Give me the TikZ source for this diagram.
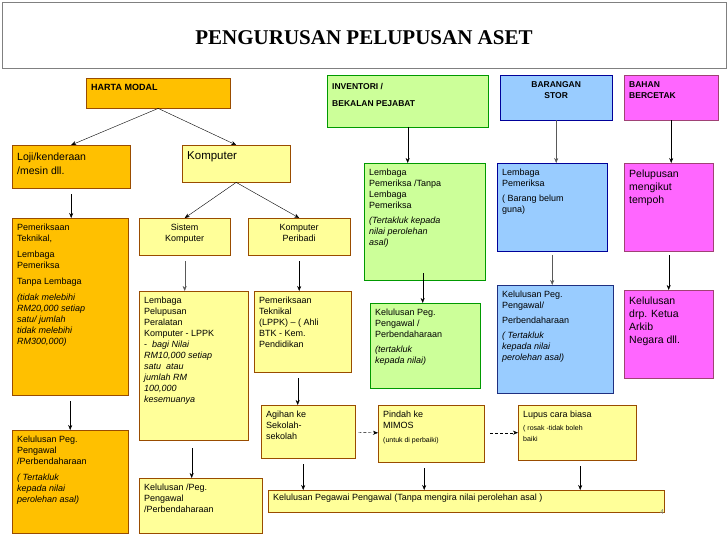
\documentclass[tikz,border=0pt]{standalone}
\usepackage{fontspec}
\setmainfont{Liberation Sans}
\newfontfamily\titlefont{Liberation Serif}
\usetikzlibrary{arrows.meta,positioning}
\definecolor{orangebox}{HTML}{FFC000}
\definecolor{yellowbox}{HTML}{FFFF99}
\definecolor{greenbox}{HTML}{CCFF99}
\definecolor{bluebox}{HTML}{99CCFF}
\definecolor{pinkbox}{HTML}{FF66FF}
\definecolor{darkblue}{HTML}{1F2F80}
% top aligned box text: width, height, text
\newcommand{\tb}[3]{\parbox[c][#2pt][t]{#1pt}{\raggedright\strut #3}}
\newcommand{\cb}[3]{\parbox[c][#2pt][t]{#1pt}{\centering\strut #3}}
\tikzset{%
        box/.style = { draw=#1!60!black, anchor=north west, inner sep=5pt, font=\fontsize{9}{11}\selectfont },
    orangebox/.style = { box=orange, fill=orangebox },
    yellowbox/.style = { box=orange, fill=yellowbox },
     greenbox/.style = { box=green, fill=greenbox },
      bluebox/.style = { box=blue, fill=bluebox },
      pinkbox/.style = { box=magenta, fill=pinkbox },
        arrow/.style = { -{Stealth[length=5pt,width=4pt]}, thin },
       garrow/.style = { arrow, gray!70!black },
       darrow/.style = { arrow, densely dashed },
}
\begin{document}
\begin{tikzpicture}[x=1pt,y=-1pt]
\useasboundingbox (0,0) rectangle (728,546);
% title
\draw[gray, fill=white] (2,2) rectangle (726,68);
\node[font=\titlefont\fontsize{21}{24}\selectfont\bfseries] (title) at (364,38) {PENGURUSAN PELUPUSAN ASET};
% top row
\node[orangebox, font=\fontsize{9}{11}\selectfont\bfseries] (harta) at (86,78) {\tb{134}{20}{HARTA MODAL}};
\node[greenbox, font=\fontsize{8.5}{13}\selectfont\bfseries] (inventori) at (327,75) {\tb{151}{42}{INVENTORI /\\[4pt]BEKALAN PEJABAT}};
\node[bluebox, font=\fontsize{8.5}{11}\selectfont\bfseries] (stor) at (500,75) {\cb{102}{35}{BARANGAN\\STOR}};
\node[pinkbox, font=\fontsize{8.5}{11}\selectfont\bfseries] (bahan) at (624,75) {\tb{84}{35}{BAHAN\\BERCETAK}};
% harta modal
\node[orangebox, font=\fontsize{10.5}{14}\selectfont] (loji) at (12,145) {\tb{108}{33}{Loji/kenderaan\\/mesin dll.}};
\node[yellowbox, font=\fontsize{11.5}{13}\selectfont] (komputer) at (182,145) {\tb{98}{27}{Komputer}};
\node[orangebox] (teknikal) at (12,218) {\tb{106}{167}{Pemeriksaan\\Teknikal,\\[5pt]Lembaga\\Pemeriksa\\[5pt]Tanpa Lembaga\\[5pt]\itshape (tidak melebihi\\RM20,000 setiap\\satu/ jumlah\\tidak melebihi\\RM300,000)}};
\node[yellowbox] (sistem) at (139,218) {\cb{81}{27}{Sistem\\Komputer}};
\node[yellowbox] (peribadi) at (248,218) {\cb{92}{27}{Komputer\\Peribadi}};
\node[yellowbox] (lppk) at (139,291) {\tb{99}{139}{Lembaga\\Pelupusan\\Peralatan\\Komputer - LPPK\\- \textit{ bagi Nilai}\\\itshape RM10,000 setiap\\satu \ atau\\jumlah RM\\100,000\\kesemuanya}};
\node[yellowbox] (lppkteknikal) at (254,291) {\tb{87}{71}{Pemeriksaan\\Teknikal\\(LPPK) – ( Ahli\\BTK - Kem.\\Pendidikan}};
\node[orangebox] (lulusharta) at (12,430) {\tb{106}{93}{Kelulusan Peg.\\Pengawal\\/Perbendaharaan\\[5pt]\itshape ( Tertakluk\\kepada nilai\\perolehan asal)}};
\node[yellowbox] (luluslppk) at (139,478) {\tb{113}{45}{Kelulusan /Peg.\\Pengawal\\/Perbendaharaan}};
\node[yellowbox] (agihan) at (261,405) {\tb{84}{43}{Agihan ke\\Sekolah-\\sekolah}};
\node[yellowbox] (pindah) at (378,405) {\tb{96}{47}{Pindah ke\\MIMOS\\[3pt]{\fontsize{7}{8}\selectfont (untuk di perbaiki)}}};
\node[yellowbox] (lupus) at (518,405) {\tb{108}{45}{Lupus cara biasa\\[3pt]{\fontsize{7}{8}\selectfont ( rosak -tidak boleh\\baiki}}};
\node[yellowbox, inner ysep=3pt] (pengawal) at (268,490) {\tb{386}{16}{Kelulusan Pegawai Pengawal (Tanpa mengira nilai perolehan asal )}};
\node[font=\fontsize{7}{8}\selectfont, text=gray] (page) at (662,512) {4};
% inventori
\node[greenbox] (lembaga) at (364,163) {\tb{111}{107}{Lembaga\\Pemeriksa /Tanpa\\Lembaga\\Pemeriksa\\[4pt]\itshape (Tertakluk kepada\\nilai perolehan\\asal)}};
\node[greenbox] (lulusinv) at (370,303) {\tb{100}{75}{Kelulusan Peg.\\Pengawal /\\Perbendaharaan\\[4pt]\itshape (tertakluk\\kepada nilai)}};
% barangan stor
\node[bluebox] (lembagastor) at (497,163) {\tb{100}{78}{Lembaga\\Pemeriksa\\[4pt]( Barang belum\\guna)}};
\node[bluebox, draw=darkblue] (lulusstor) at (497,285) {\tb{106}{98}{Kelulusan Peg.\\Pengawal/\\[4pt]Perbendaharaan\\[4pt]\itshape ( Tertakluk\\kepada nilai\\perolehan asal)}};
% bahan bercetak
\node[pinkbox, font=\fontsize{10.5}{13}\selectfont] (tempoh) at (624,163) {\tb{79}{78}{Pelupusan\\mengikut\\tempoh}};
\node[pinkbox, font=\fontsize{10.5}{13}\selectfont] (arkib) at (624,290) {\tb{79}{78}{Kelulusan\\drp. Ketua\\Arkib\\Negara dll.}};
% connectors
\draw[arrow] (harta.south) -- (loji.north);
\draw[arrow] (harta.south) -- (komputer.north);
\draw[arrow] (komputer.south) -- (sistem.north);
\draw[arrow] (komputer.south) -- (peribadi.north);
\draw[arrow, shorten <=6pt] (loji.south) -- (loji.south |- teknikal.north);
\draw[garrow, shorten <=6pt] (sistem.south) -- (sistem.south |- lppk.north);
\draw[arrow, shorten <=6pt] (peribadi.south) -- (peribadi.south |- lppkteknikal.north);
\draw[arrow, shorten <=6pt] (teknikal.south) -- (teknikal.south |- lulusharta.north);
\draw[arrow, shorten <=8pt] ([xshift=-2pt]lppk.south) -- ([xshift=-2pt]lppk.south |- luluslppk.north);
\draw[arrow, shorten <=6pt] ([xshift=-5pt]lppkteknikal.south) -- ([xshift=-5pt]lppkteknikal.south |- agihan.north);
\draw[darrow, shorten <=3pt] (agihan) -- (pindah);
\draw[darrow, shorten <=6pt] (pindah.east |- lupus) -- (lupus);
\draw[arrow, shorten <=6pt] ([xshift=-5pt]agihan.south) -- ([xshift=-5pt]agihan.south |- pengawal.north);
\draw[arrow, shorten <=6pt] ([xshift=-7pt]pindah.south) -- ([xshift=-7pt]pindah.south |- pengawal.north);
\draw[arrow, shorten <=6pt] ([xshift=3pt]lupus.south) -- ([xshift=3pt]lupus.south |- pengawal.north);
\draw[arrow] (inventori.south) -- (inventori.south |- lembaga.north);
\draw[arrow, shorten <=-7pt] ([xshift=-2pt]lembaga.south) -- ([xshift=-2pt]lembaga.south |- lulusinv.north);
\draw[garrow] (stor.south) -- (stor.south |- lembagastor.north);
\draw[garrow, shorten <=4pt] (lembagastor.south) -- (lembagastor.south |- lulusstor.north);
\draw[arrow] (bahan.south) -- (bahan.south |- tempoh.north);
\draw[arrow, shorten <=4pt] (tempoh.south) -- (tempoh.south |- arkib.north);
\end{tikzpicture}
\end{document}
